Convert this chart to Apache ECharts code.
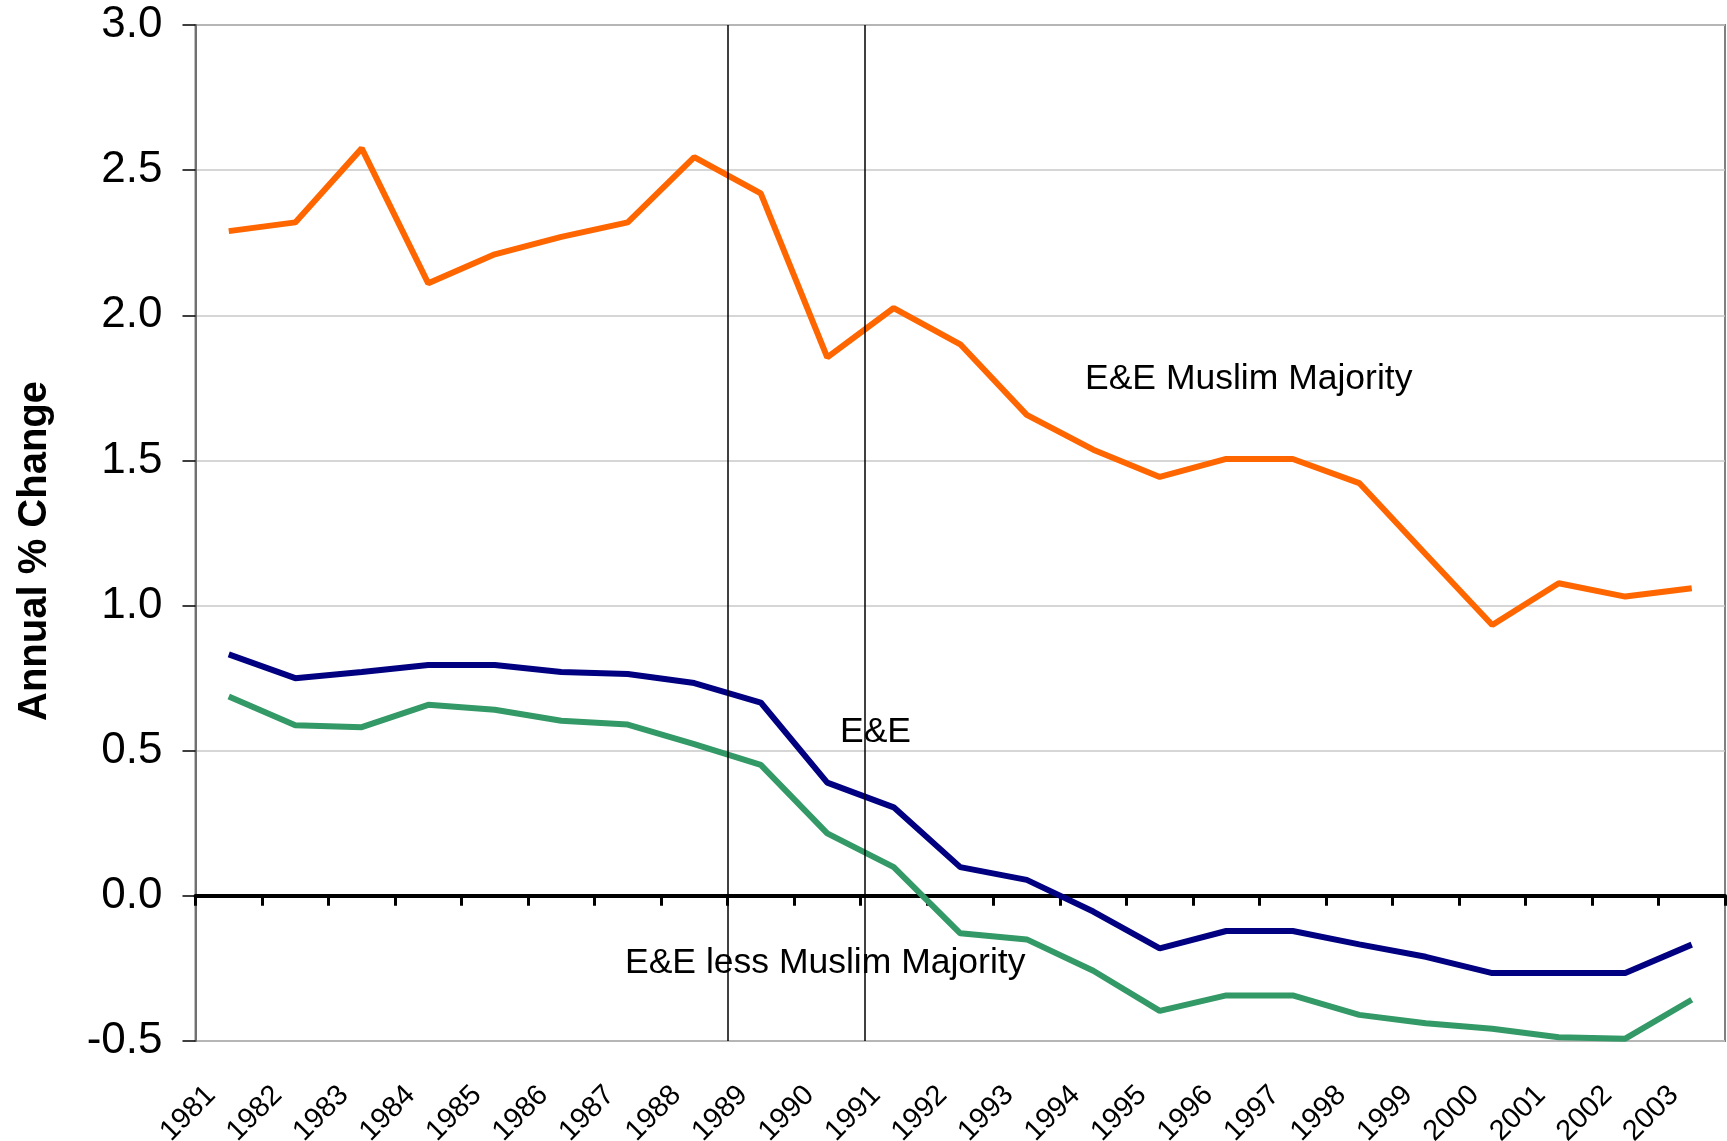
<!DOCTYPE html>
<html>
<head>
<meta charset="utf-8">
<title>Annual % Change</title>
<script src="https://cdn.jsdelivr.net/npm/echarts@6.0.0/dist/echarts.min.js"></script>
<style>
  html, body { margin: 0; padding: 0; background: #fff; }
  #chart { width: 1727px; height: 1141px; }
</style>
</head>
<body>
<div id="chart"></div>
<script>
// categories
var years = ['1981', '1982', '1983', '1984', '1985', '1986', '1987', '1988', '1989', '1990',
  '1991', '1992', '1993', '1994', '1995', '1996', '1997', '1998', '1999', '2000',
  '2001', '2002', '2003'];

// series values (annual % change)
var muslimMajority = [2.29, 2.32, 2.575, 2.11, 2.21, 2.27, 2.32, 2.545, 2.42, 1.855,
  2.025, 1.90, 1.657, 1.537, 1.443, 1.505, 1.505, 1.422, 1.177, 0.933,
  1.077, 1.031, 1.06];
var ee = [0.832, 0.75, 0.771, 0.795, 0.795, 0.771, 0.764, 0.733, 0.666, 0.39,
  0.305, 0.099, 0.055, -0.054, -0.181, -0.121, -0.121, -0.167, -0.21, -0.266,
  -0.266, -0.266, -0.168];
var eeLessMuslim = [0.687, 0.588, 0.581, 0.658, 0.641, 0.603, 0.59, 0.523, 0.451, 0.215,
  0.099, -0.129, -0.15, -0.258, -0.396, -0.343, -0.343, -0.41, -0.439, -0.458,
  -0.487, -0.492, -0.358];

// vertical marker lines (position along the year bands, 0 = left edge)
var markerPositions = [8, 10.07];

var FONT = 'Liberation Sans, Arial, sans-serif';

var chart = echarts.init(document.getElementById('chart'));

chart.setOption({
  animation: false,
  backgroundColor: '#fff',
  grid: {
    left: 195.5,
    right: 2,
    top: 25,
    bottom: 100,
    outerBoundsMode: 'none',
    containLabel: false,
    show: true,
    borderColor: '#808080',
    borderWidth: 2
  },
  xAxis: [
    // labels at the bottom
    {
      type: 'category',
      data: years,
      position: 'bottom',
      boundaryGap: true,
      axisLine: { show: false, onZero: false },
      axisTick: { show: false },
      splitLine: { show: false },
      axisLabel: {
        rotate: 45,
        margin: 32,
        padding: [0, 25, 0, 0],
        fontFamily: FONT,
        fontSize: 29,
        color: '#000',
        interval: 0
      }
    },
    // thick zero line with ticks
    {
      type: 'category',
      data: years,
      position: 'bottom',
      boundaryGap: true,
      axisLine: { show: true, onZero: true, lineStyle: { color: '#000', width: 4 } },
      axisTick: { show: true, length: 10, interval: 0, lineStyle: { color: '#000', width: 3 } },
      axisLabel: { show: false },
      splitLine: { show: false }
    },
    // hidden value axis for the vertical lines
    {
      type: 'value',
      min: 0,
      max: 23,
      show: false
    }
  ],
  yAxis: {
    type: 'value',
    min: -0.5,
    max: 3,
    interval: 0.5,
    name: 'Annual % Change',
    nameLocation: 'middle',
    nameGap: 141,
    nameTextStyle: {
      fontFamily: FONT,
      fontSize: 40,
      fontWeight: 'bold',
      color: '#000',
      padding: [0, 36, 0, 0]
    },
    axisLine: { show: true, onZero: false, lineStyle: { color: '#707070', width: 2 } },
    axisTick: { show: true, length: 13, lineStyle: { color: '#000', width: 1.5 } },
    axisLabel: {
      margin: 33,
      fontFamily: FONT,
      fontSize: 44,
      color: '#000',
      formatter: function (v) { return v.toFixed(1); }
    },
    splitLine: { show: true, lineStyle: { color: '#c8c8c8', width: 1.5 } }
  },
  series: [
    {
      name: 'E&E Muslim Majority',
      type: 'line',
      xAxisIndex: 0,
      data: muslimMajority,
      showSymbol: false,
      lineStyle: { color: '#ff6600', width: 6 },
      itemStyle: { color: '#ff6600' },
      z: 3
    },
    {
      name: 'E&E',
      type: 'line',
      xAxisIndex: 0,
      data: ee,
      showSymbol: false,
      lineStyle: { color: '#000080', width: 6 },
      itemStyle: { color: '#000080' },
      z: 3
    },
    {
      name: 'E&E less Muslim Majority',
      type: 'line',
      xAxisIndex: 0,
      data: eeLessMuslim,
      showSymbol: false,
      lineStyle: { color: '#339966', width: 6 },
      itemStyle: { color: '#339966' },
      z: 3
    },
    {
      name: 'markers',
      type: 'line',
      xAxisIndex: 2,
      data: [],
      markLine: {
        silent: true,
        symbol: 'none',
        label: { show: false },
        lineStyle: { color: '#000', width: 1.5, type: 'solid' },
        data: markerPositions.map(function (p) { return { xAxis: p }; })
      },
      z: 4
    }
  ],
  // series labels
  graphic: [
    {
      type: 'text',
      style: { text: 'E&E Muslim Majority', x: 1085, y: 379, font: '35.5px ' + FONT, fill: '#000', align: 'left', verticalAlign: 'middle' }
    },
    {
      type: 'text',
      style: { text: 'E&E', x: 840, y: 732, font: '35.5px ' + FONT, fill: '#000', align: 'left', verticalAlign: 'middle' }
    },
    {
      type: 'text',
      style: { text: 'E&E less Muslim Majority', x: 625, y: 963, font: '35.5px ' + FONT, fill: '#000', align: 'left', verticalAlign: 'middle' }
    }
  ]
});
</script>
</body>
</html>
